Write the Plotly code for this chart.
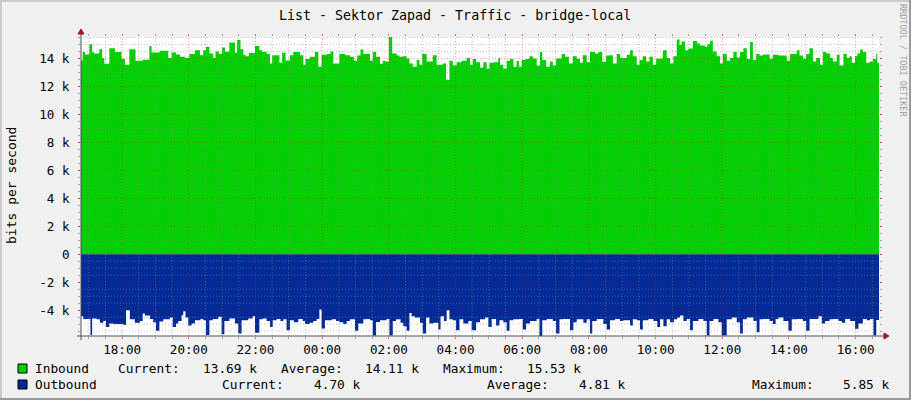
import plotly.graph_objects as go
from datetime import datetime, timedelta

# ---------------- data ----------------
start_time = datetime(2024, 5, 14, 16, 46)
end_minute = 1436  # length of the window in minutes

# Inbound traffic (kbit/s), step segments: minute offset from start -> value
in_minutes = [
    0, 3, 7, 15, 20, 23, 33, 38, 42, 51,
    61, 73, 79, 87, 98, 111, 123, 127, 142, 157,
    163, 171, 178, 187, 195, 205, 214, 220, 225, 231,
    238, 242, 248, 254, 259, 267, 277, 281, 287, 292,
    296, 302, 313, 321, 326, 334, 340, 344, 357, 362,
    368, 376, 382, 394, 400, 404, 412, 421, 427, 433,
    443, 449, 454, 465, 475, 484, 491, 497, 503, 508,
    520, 525, 531, 538, 543, 547, 554, 560, 568, 573,
    579, 586, 591, 597, 604, 609, 614, 622, 633, 640,
    651, 657, 663, 669, 676, 685, 694, 700, 705, 711,
    718, 724, 730, 735, 742, 751, 754, 760, 766, 772,
    778, 784, 788, 793, 800, 807, 813, 820, 826, 830,
    837, 844, 849, 855, 865, 871, 878, 885, 892, 898,
    903, 910, 916, 925, 931, 938, 945, 951, 957, 964,
    970, 982, 988, 993, 1000, 1005, 1011, 1017, 1023, 1029,
    1035, 1041, 1047, 1054,
    1060, 1066, 1072, 1077, 1081, 1087, 1093, 1101, 1109, 1114,
    1123, 1127, 1132, 1137, 1144, 1150, 1155, 1162, 1168, 1174,
    1180, 1186, 1192, 1198, 1204, 1209, 1215, 1221, 1227, 1239,
    1245, 1255, 1270, 1276, 1288, 1293, 1299, 1305, 1311, 1317,
    1323, 1330, 1335, 1341, 1348, 1353, 1360, 1365, 1372, 1378,
    1383, 1387, 1393, 1397, 1402, 1407, 1413, 1419, 1425, 1431,
    1433,
]
in_kbits = [
    13.83, 14.45, 14.28, 15.02, 14.45, 14.35, 14.66, 14.02, 13.61, 14.73,
    14.45, 13.97, 13.54, 14.66, 13.83, 13.90, 14.88, 14.43, 14.54, 14.02,
    14.43, 14.28, 14.11, 14.02, 14.31, 14.59, 14.23, 14.59, 14.81, 14.35,
    14.02, 14.50, 14.31, 14.78, 14.47, 15.14, 14.40, 15.31, 14.66, 14.26,
    14.16, 14.38, 14.88, 14.59, 14.45, 14.31, 13.64, 14.23, 13.69, 14.40,
    13.85, 14.23, 14.45, 14.23, 13.54, 13.95, 14.11, 14.45, 13.40, 14.26,
    14.31, 14.50, 13.64, 14.31, 14.23, 14.11, 13.83, 14.21, 14.64, 14.31,
    13.83, 14.45, 14.11, 13.61, 13.83, 13.78, 15.53, 14.35, 14.21, 14.11,
    14.16, 14.00, 13.64, 13.40, 13.88, 13.54, 14.31, 13.78, 14.23, 13.54,
    13.64, 12.45, 13.83, 13.50, 13.73, 13.83, 14.02, 13.54, 13.95, 13.73,
    13.35, 13.73, 13.26, 13.69, 13.73, 14.02, 13.54, 13.26, 13.83, 13.95,
    13.40, 13.83, 13.40, 13.88, 13.95, 14.16, 14.00, 13.47, 14.45, 13.88,
    13.40, 13.78, 13.50, 14.00, 14.31, 14.11, 13.64, 14.16, 13.97, 13.69,
    14.23, 13.73, 14.45, 14.35, 14.45, 13.76, 14.21, 14.23, 13.64, 14.31,
    14.02, 14.26, 14.59, 14.16, 13.54, 13.88, 14.16, 13.78, 14.11, 13.54,
    13.97, 14.00, 14.59, 14.02,
    13.64, 14.16, 15.36, 14.95, 15.21, 14.59, 14.71, 15.24, 15.07, 14.93,
    14.83, 15.02, 15.26, 14.50, 14.16, 13.64, 14.31, 13.83, 14.02, 14.45,
    14.06, 14.45, 14.73, 13.95, 15.17, 13.88, 14.31, 14.21, 14.28, 13.97,
    14.26, 14.21, 13.83, 14.31, 14.59, 14.21, 13.97, 14.31, 14.73, 13.78,
    14.02, 13.54, 14.45, 14.35, 14.02, 13.78, 14.26, 13.50, 14.31, 14.02,
    14.16, 13.69, 14.16, 14.35, 14.64, 14.45, 13.69, 13.78, 13.95, 14.31,
    13.69,
]

# Outbound traffic (kbit/s), drawn below zero
out_minutes = [
    0, 4, 17, 20, 28, 34, 40, 45, 51, 58,
    75, 81, 88, 97, 106, 111, 115, 124, 130, 135,
    141, 148, 160, 165, 171, 175, 181, 184, 188, 193,
    199, 205, 215, 220, 225, 231, 237, 247, 253, 258,
    267, 277, 283, 289, 301, 309, 313, 321, 327, 334,
    340, 345, 352, 359, 364, 370, 376, 383, 391, 399,
    403, 411, 418, 424, 429, 433, 439, 451, 459, 465,
    472, 478, 484, 493, 499, 508, 514,
    520, 525, 531, 538, 550, 555, 561, 567, 575, 580,
    586, 591, 595, 601, 610, 615, 621, 627, 634, 643,
    647, 653, 658, 663, 669, 675, 681, 688, 697, 703,
    711, 718, 727, 733, 739, 747, 753, 760, 766, 771,
    778, 789, 795, 801, 808, 820, 825, 830, 838, 849,
    855, 861, 868, 880, 886, 892, 904, 910, 916, 920,
    928, 940, 946, 952, 961, 970, 976, 988, 993, 1000,
    1006, 1011, 1021, 1030, 1037, 1042, 1048, 1054,
    1060, 1067, 1073, 1078, 1084, 1090, 1096, 1101, 1111, 1120,
    1126, 1131, 1138, 1147, 1153, 1162, 1171, 1180, 1186, 1191,
    1198, 1210, 1216, 1221, 1228, 1239, 1245, 1250, 1255, 1264,
    1273, 1279, 1288, 1299, 1305, 1311, 1327, 1333, 1339, 1347,
    1354, 1363, 1369, 1375, 1384, 1393, 1399, 1407, 1414, 1420,
    1426, 1431,
]
out_kbits = [
    4.43, 4.63, 5.77, 4.60, 4.65, 4.91, 4.77, 5.20, 4.96, 5.00,
    5.05, 4.00, 4.65, 4.91, 4.77, 4.24, 4.39, 4.63, 4.86, 5.48,
    4.82, 4.65, 4.53, 5.20, 4.96, 4.77, 4.36, 4.08, 4.53, 5.10,
    4.96, 4.72, 4.63, 4.72, 5.77, 4.72, 4.63, 4.48, 5.72, 4.77,
    4.60, 4.96, 5.67, 4.72, 4.60, 4.43, 5.62, 4.65, 4.60, 4.77,
    5.20, 4.72, 4.63, 4.77, 4.65, 5.44, 4.72, 4.86, 4.63, 4.77,
    5.00, 4.91, 4.77, 4.63, 3.96, 5.32, 4.72, 4.65, 4.77, 4.86,
    5.00, 4.77, 4.65, 5.48, 4.96, 4.65, 4.63,
    4.72, 5.82, 4.84, 4.72, 4.63, 5.82, 4.77, 4.65, 4.91, 5.15,
    5.48, 4.20, 4.43, 4.53, 4.91, 5.67, 4.53, 4.96, 4.91, 5.39,
    4.43, 4.77, 4.00, 4.65, 4.72, 5.44, 4.65, 4.96, 4.77, 5.44,
    4.86, 4.65, 4.53, 5.20, 4.63, 5.10, 4.72, 4.86, 5.48, 4.72,
    4.65, 4.63, 5.39, 4.96, 4.77, 4.63, 5.85, 4.72, 4.63, 4.77,
    5.67, 4.65, 4.63, 5.44, 4.86, 4.65, 4.91, 4.65, 5.67, 4.77,
    4.63, 5.00, 5.39, 4.72, 4.63, 4.77, 4.72, 5.10, 4.65, 4.72,
    5.39, 4.72, 4.63, 4.77, 5.20, 4.65, 5.15, 4.65,
    4.86, 4.65, 4.53, 4.39, 4.77, 4.63, 5.44, 4.77, 4.63, 4.77,
    5.82, 4.77, 4.63, 4.86, 5.82, 4.65, 4.53, 4.86, 5.67, 4.65,
    4.53, 4.77, 5.58, 4.65, 4.63, 4.77, 5.00, 4.63, 4.53, 4.77,
    5.48, 4.65, 4.63, 4.77, 5.48, 4.63, 4.43, 4.96, 4.77, 4.65,
    4.63, 4.77, 4.91, 4.63, 4.77, 5.34, 4.96, 4.63, 4.72, 4.63,
    5.82, 4.70,
]

y_tick_vals = [-4, -2, 0, 2, 4, 6, 8, 10, 12, 14]
y_tick_text = ["-4 k", "-2 k", "0", "2 k", "4 k", "6 k", "8 k", "10 k", "12 k", "14 k"]
y_range = [-5.85, 15.53]

title_text = "List - Sektor Zapad - Traffic - bridge-local"
y_title = "bits per second"
watermark = "RRDTOOL / TOBI OETIKER"

series_names = ["Inbound", "Outbound"]
series_colors = ["#00CF00", "#002A97"]
current_vals = ["13.69 k", "4.70 k"]
average_vals = ["14.11 k", "4.81 k"]
maximum_vals = ["15.53 k", "5.85 k"]

# ---------------- layout geometry ----------------
W, H = 911, 400
L, R, T, B = 81, 32, 37, 64
PW, PH = W - L - R, H - T - B
MONO = "DejaVu Sans Mono"


def px(x):
    return (x - L) / PW


def py(y):
    return (H - B - y) / PH


def t_of(m):
    return start_time + timedelta(minutes=m)


end_time = t_of(end_minute)

fig = go.Figure()

x_in = [t_of(m) for m in in_minutes] + [end_time]
y_in = in_kbits + [in_kbits[-1]]
fig.add_trace(go.Scatter(x=x_in, y=y_in, mode="lines", line=dict(width=0, color=series_colors[0], shape="hv"),
                         fill="tozeroy", fillcolor=series_colors[0], hoverinfo="skip"))

x_out = [t_of(m) for m in out_minutes] + [end_time]
y_out = [-v for v in out_kbits] + [-out_kbits[-1]]
fig.add_trace(go.Scatter(x=x_out, y=y_out, mode="lines", line=dict(width=0, color=series_colors[1], shape="hv"),
                         fill="tozeroy", fillcolor=series_colors[1], hoverinfo="skip"))

MINOR_C = "rgba(140,140,140,0.55)"
MAJOR_C = "rgba(235,0,0,0.38)"
DASH = "1px,2px"

shapes = []
# horizontal grid
k = -11
while k * 0.5 <= y_range[1]:
    v = k * 0.5
    if v >= y_range[0]:
        major = (abs(v) % 2 == 0)
        shapes.append(dict(type="line", xref="paper", yref="y", x0=0, x1=1, y0=v, y1=v, layer="above",
                           line=dict(color=MAJOR_C if major else MINOR_C, width=1, dash=DASH)))
    k += 1
# vertical grid
gt = datetime(2024, 5, 14, 17, 0)
while gt <= end_time:
    major = (gt.minute == 0 and gt.hour % 2 == 0)
    shapes.append(dict(type="line", xref="x", yref="paper", x0=gt, x1=gt, y0=0, y1=1, layer="above",
                       line=dict(color=MAJOR_C if major else MINOR_C, width=1, dash=DASH)))
    gt += timedelta(minutes=30)

AXIS_C = "#505050"
ARROW_C = "#A01818"
# axis lines
shapes.append(dict(type="line", xref="paper", yref="paper", x0=px(81), x1=px(81), y0=py(340), y1=py(31),
                   line=dict(color=AXIS_C, width=1), layer="above"))
shapes.append(dict(type="line", xref="paper", yref="paper", x0=px(77), x1=px(885), y0=py(336), y1=py(336),
                   line=dict(color=AXIS_C, width=1), layer="above"))
# arrows
shapes.append(dict(type="path", xref="paper", yref="paper", layer="above", fillcolor=ARROW_C,
                   line=dict(color=ARROW_C, width=1),
                   path=f"M {px(78)} {py(34)} L {px(84)} {py(34)} L {px(81)} {py(29)} Z"))
shapes.append(dict(type="path", xref="paper", yref="paper", layer="above", fillcolor=ARROW_C,
                   line=dict(color=ARROW_C, width=1),
                   path=f"M {px(884)} {py(333)} L {px(884)} {py(339)} L {px(889)} {py(336)} Z"))
# frame shading
shapes.append(dict(type="rect", xref="paper", yref="paper", x0=px(0), x1=px(W), y0=py(0), y1=py(2),
                   fillcolor="#CBCBCB", line=dict(width=0), layer="below"))
shapes.append(dict(type="rect", xref="paper", yref="paper", x0=px(0), x1=px(2), y0=py(0), y1=py(H),
                   fillcolor="#CBCBCB", line=dict(width=0), layer="below"))
shapes.append(dict(type="rect", xref="paper", yref="paper", x0=px(0), x1=px(W), y0=py(H - 2), y1=py(H),
                   fillcolor="#999999", line=dict(width=0), layer="below"))
shapes.append(dict(type="rect", xref="paper", yref="paper", x0=px(W - 2), x1=px(W), y0=py(0), y1=py(H),
                   fillcolor="#999999", line=dict(width=0), layer="below"))
# legend swatches
for i, col in enumerate(series_colors):
    top = 364 + 16 * i
    shapes.append(dict(type="rect", xref="paper", yref="paper", x0=px(18), x1=px(27), y0=py(top + 9), y1=py(top),
                       fillcolor=col, line=dict(color="#000000", width=1)))

annotations = []


def txt(x, y, s, size=12.8, anchor="left", color="#000000", angle=0):
    annotations.append(dict(xref="paper", yref="paper", x=px(x), y=py(y), text=s, showarrow=False,
                            xanchor=anchor, yanchor="middle", textangle=angle,
                            font=dict(family=MONO, size=size, color=color)))


txt(455, 15, title_text, size=13.3, anchor="center")
txt(11, 186, y_title, size=13, anchor="center", angle=-90)
txt(903, 60, watermark, size=8.5, anchor="center", color="#A0A0A0", angle=90)

row_y = [368.5, 384.5]
label_x = [[116, 279, 441], [220, 485, 750]]
value_end = [[259, 421, 583], [363, 628, 892]]
for i in range(2):
    txt(33, row_y[i], series_names[i])
    vals = [current_vals[i], average_vals[i], maximum_vals[i]]
    for j, lab in enumerate(["Current:", "Average:", "Maximum:"]):
        txt(label_x[i][j], row_y[i], lab)
        txt(value_end[i][j], row_y[i], vals[j], anchor="right")

fig.update_layout(
    width=W, height=H,
    margin=dict(l=L, r=R, t=T, b=B, pad=0),
    paper_bgcolor="#F0F0F0", plot_bgcolor="#FFFFFF",
    showlegend=False,
    shapes=shapes, annotations=annotations,
    font=dict(family=MONO, size=12.6, color="#000000"),
)
fig.update_xaxes(
    type="date", range=[start_time, end_time], showgrid=False, zeroline=False, showline=False,
    tickformat="%H:%M", dtick=2 * 3600 * 1000, tick0="2024-05-14 00:00",
    ticks="outside", ticklen=2, tickcolor="rgba(235,0,0,0.6)", mirror="ticks",
    tickfont=dict(family=MONO, size=12.6, color="#000000"),
    minor=dict(ticks="outside", ticklen=2, tickcolor="rgba(140,140,140,0.8)", dtick=30 * 60 * 1000,
               tick0="2024-05-14 00:00", showgrid=False),
)
fig.update_yaxes(
    range=y_range, showgrid=False, zeroline=False, showline=False,
    tickvals=y_tick_vals, ticktext=y_tick_text,
    ticks="outside", ticklen=2, tickcolor="rgba(235,0,0,0.6)", mirror="ticks",
    ticklabelstandoff=6,
    tickfont=dict(family=MONO, size=12.6, color="#000000"),
    minor=dict(ticks="outside", ticklen=2, tickcolor="rgba(140,140,140,0.8)", dtick=0.5, tick0=0,
               showgrid=False),
)

fig.write_html("out.html", config={"displayModeBar": False, "staticPlot": True},
               post_script="document.body.style.margin='0';document.body.style.overflow='hidden';")
